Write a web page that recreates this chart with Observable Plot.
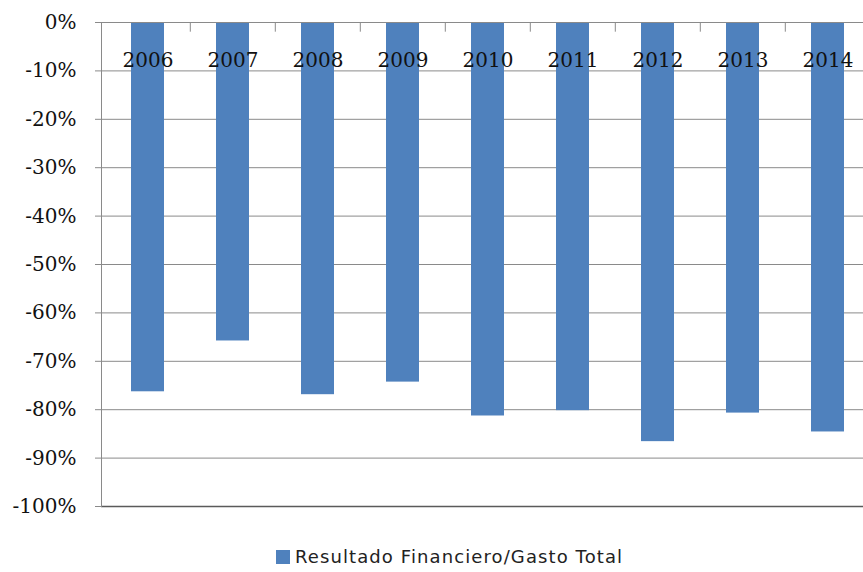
<!DOCTYPE html>
<html>
<head>
<meta charset="utf-8">
<script src="https://cdn.jsdelivr.net/npm/d3@7"></script>
<script src="https://cdn.jsdelivr.net/npm/@observablehq/plot@0.6"></script>
<style>
  html, body { margin: 0; padding: 0; background: #fff; }
  #wrap { position: relative; width: 863px; height: 572px; overflow: hidden; }
  #chart svg, #chart svg g, #chart svg text, #chart svg tspan { font-family: "DejaVu Serif", serif !important; }
  #legend { position: absolute; left: 276px; top: 546px; display: flex; align-items: center;
            font-family: "DejaVu Sans", sans-serif; font-size: 18px; letter-spacing: 1.1px; color: #222; white-space: nowrap; }
  #legend .sw { width: 14px; height: 14px; background: #4f81bd; margin-right: 5px; }
</style>
</head>
<body>
<div id="wrap">
  <div id="chart"></div>
  <div id="legend"><span class="sw"></span><span>Resultado Financiero/Gasto Total</span></div>
</div>
<script>
const years = ["2006", "2007", "2008", "2009", "2010", "2011", "2012", "2013", "2014"];
const values = [-76.3, -65.8, -76.9, -74.3, -81.3, -80.2, -86.6, -80.7, -84.6];
const yTicks = [0, -10, -20, -30, -40, -50, -60, -70, -80, -90, -100];
const seriesName = "Resultado Financiero/Gasto Total";

const data = years.map((year, i) => ({year, value: values[i]}));

const plot = Plot.plot({
  width: 863,
  height: 520,
  marginTop: 22,
  marginBottom: 14,
  marginLeft: 101,
  marginRight: 0,
  style: {fontFamily: "DejaVu Serif", fontSize: "20px", color: "#111", background: "#fff"},
  x: {domain: years, range: [103, 872], paddingInner: 0.614, paddingOuter: 0.307, axis: null},
  y: {domain: [-100, 0], ticks: yTicks, tickFormat: d => d + "%"},
  marks: [
    Plot.ruleY(yTicks, {stroke: "#8a8a8a", strokeWidth: 1}),
    Plot.barY(data, {x: "year", y1: 0, y2: "value", fill: "#4f81bd"}),
    Plot.ruleY([0], {stroke: "#8a8a8a", strokeWidth: 1}),
    Plot.ruleY([-100], {stroke: "#5a5a5a", strokeWidth: 1.5}),
    Plot.ruleX(years.slice(1), {x: d => d, dx: -42.7, y1: 0, y2: -2, stroke: "#8a8a8a"}),
    Plot.frame({anchor: "left", stroke: "#8a8a8a"}),
    Plot.axisY({ticks: yTicks, tickFormat: d => d + "%", tickSize: 6, tickPadding: 19, stroke: "#8a8a8a", fill: "#111", fontSize: 20, fontFamily: "DejaVu Serif", label: null}),
    Plot.text(years, {x: d => d, text: d => d, frameAnchor: "top", dy: 30, fill: "#111", fontSize: 20, fontFamily: "DejaVu Serif"})
  ]
});
document.getElementById("chart").appendChild(plot);
</script>
</body>
</html>
